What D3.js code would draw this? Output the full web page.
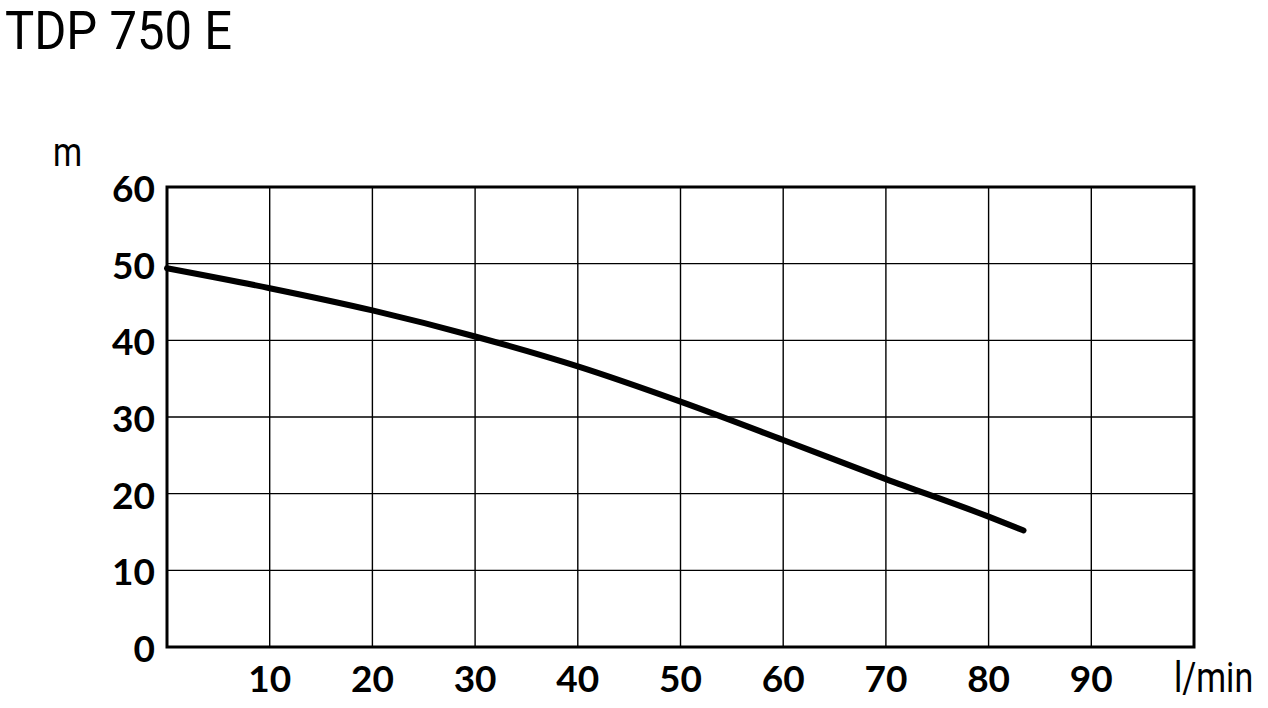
<!DOCTYPE html>
<html>
<head>
<meta charset="utf-8">
<script src="https://cdn.jsdelivr.net/npm/d3@7"></script>
<style>
  body { margin: 0; background: #fff; }
</style>
</head>
<body>
<div id="chart"></div>
<script>
// pump curve values
const flow = [0, 10, 20, 30, 40, 50, 60, 70, 80, 83.4];
const head = [49.4, 46.8, 43.9, 40.5, 36.6, 32.0, 27.0, 21.9, 17.0, 15.2];
const xTicks = [10, 20, 30, 40, 50, 60, 70, 80, 90];
const yTicks = [0, 10, 20, 30, 40, 50, 60];
const title = "TDP 750 E";

const svgWidth = 1268;
const svgHeight = 708;
const margin = { top: 187, left: 167, bottom: 61, right: 74 };
const width = svgWidth - (margin.left + margin.right);
const height = svgHeight - (margin.top + margin.bottom);

const root = d3.select("#chart").append("svg")
  .attr("width", svgWidth)
  .attr("height", svgHeight);

root.append("text")
  .attr("x", 5)
  .attr("y", 49)
  .style("font-family", "Roboto")
  .style("font-size", "53px")
  .attr("textLength", 227)
  .attr("lengthAdjust", "spacingAndGlyphs")
  .text(title);

const svg = root.append("g")
  .attr("transform", "translate(" + margin.left + "," + margin.top + ")");

const x = d3.scaleLinear().domain([0, 100]).range([0, width]);
const y = d3.scaleLinear().domain([0, 60]).range([height, 0]);

// grid
svg.append("g")
  .selectAll("line")
  .data(xTicks)
  .enter()
  .append("line")
  .attr("x1", d => x(d)).attr("x2", d => x(d))
  .attr("y1", 0).attr("y2", height)
  .attr("stroke", "#000").attr("stroke-width", 1.4);

svg.append("g")
  .selectAll("line")
  .data(yTicks.filter(d => d > 0 && d < 60))
  .enter()
  .append("line")
  .attr("x1", 0).attr("x2", width)
  .attr("y1", d => y(d)).attr("y2", d => y(d))
  .attr("stroke", "#000").attr("stroke-width", 1.4);

// frame
svg.append("rect")
  .attr("width", width).attr("height", height)
  .attr("fill", "none").attr("stroke", "#000").attr("stroke-width", 3);

// tick labels
svg.append("g")
  .selectAll("text")
  .data(xTicks)
  .enter()
  .append("text")
  .attr("x", d => x(d))
  .attr("y", height + 45)
  .attr("text-anchor", "middle")
  .style("font-family", "Lato")
  .style("font-weight", "bold")
  .style("font-size", "37px")
  .text(d => d);

svg.append("g")
  .selectAll("text")
  .data(yTicks)
  .enter()
  .append("text")
  .attr("x", -12)
  .attr("y", d => y(d) + 15)
  .attr("text-anchor", "end")
  .style("font-family", "Lato")
  .style("font-weight", "bold")
  .style("font-size", "37px")
  .text(d => d);

// unit labels (narrowed with a scale so the box stays in the page)
svg.append("text")
  .attr("transform", "translate(-114,-21) scale(0.83,1)")
  .style("font-family", "Roboto")
  .style("font-size", "40px")
  .text("m");

svg.append("text")
  .attr("transform", "translate(" + (width - 20) + "," + (height + 45) + ") scale(0.81,1)")
  .style("font-family", "Roboto")
  .style("font-size", "42px")
  .text("l/min");

// curve
const pts = flow.map((f, i) => [f, head[i]]);
const line = d3.line()
  .x(d => x(d[0]))
  .y(d => y(d[1]))
  .curve(d3.curveMonotoneX);

svg.append("path")
  .datum(pts)
  .attr("d", line)
  .attr("fill", "none")
  .attr("stroke", "#000")
  .attr("stroke-width", 6)
  .attr("stroke-linecap", "round");
</script>
</body>
</html>
